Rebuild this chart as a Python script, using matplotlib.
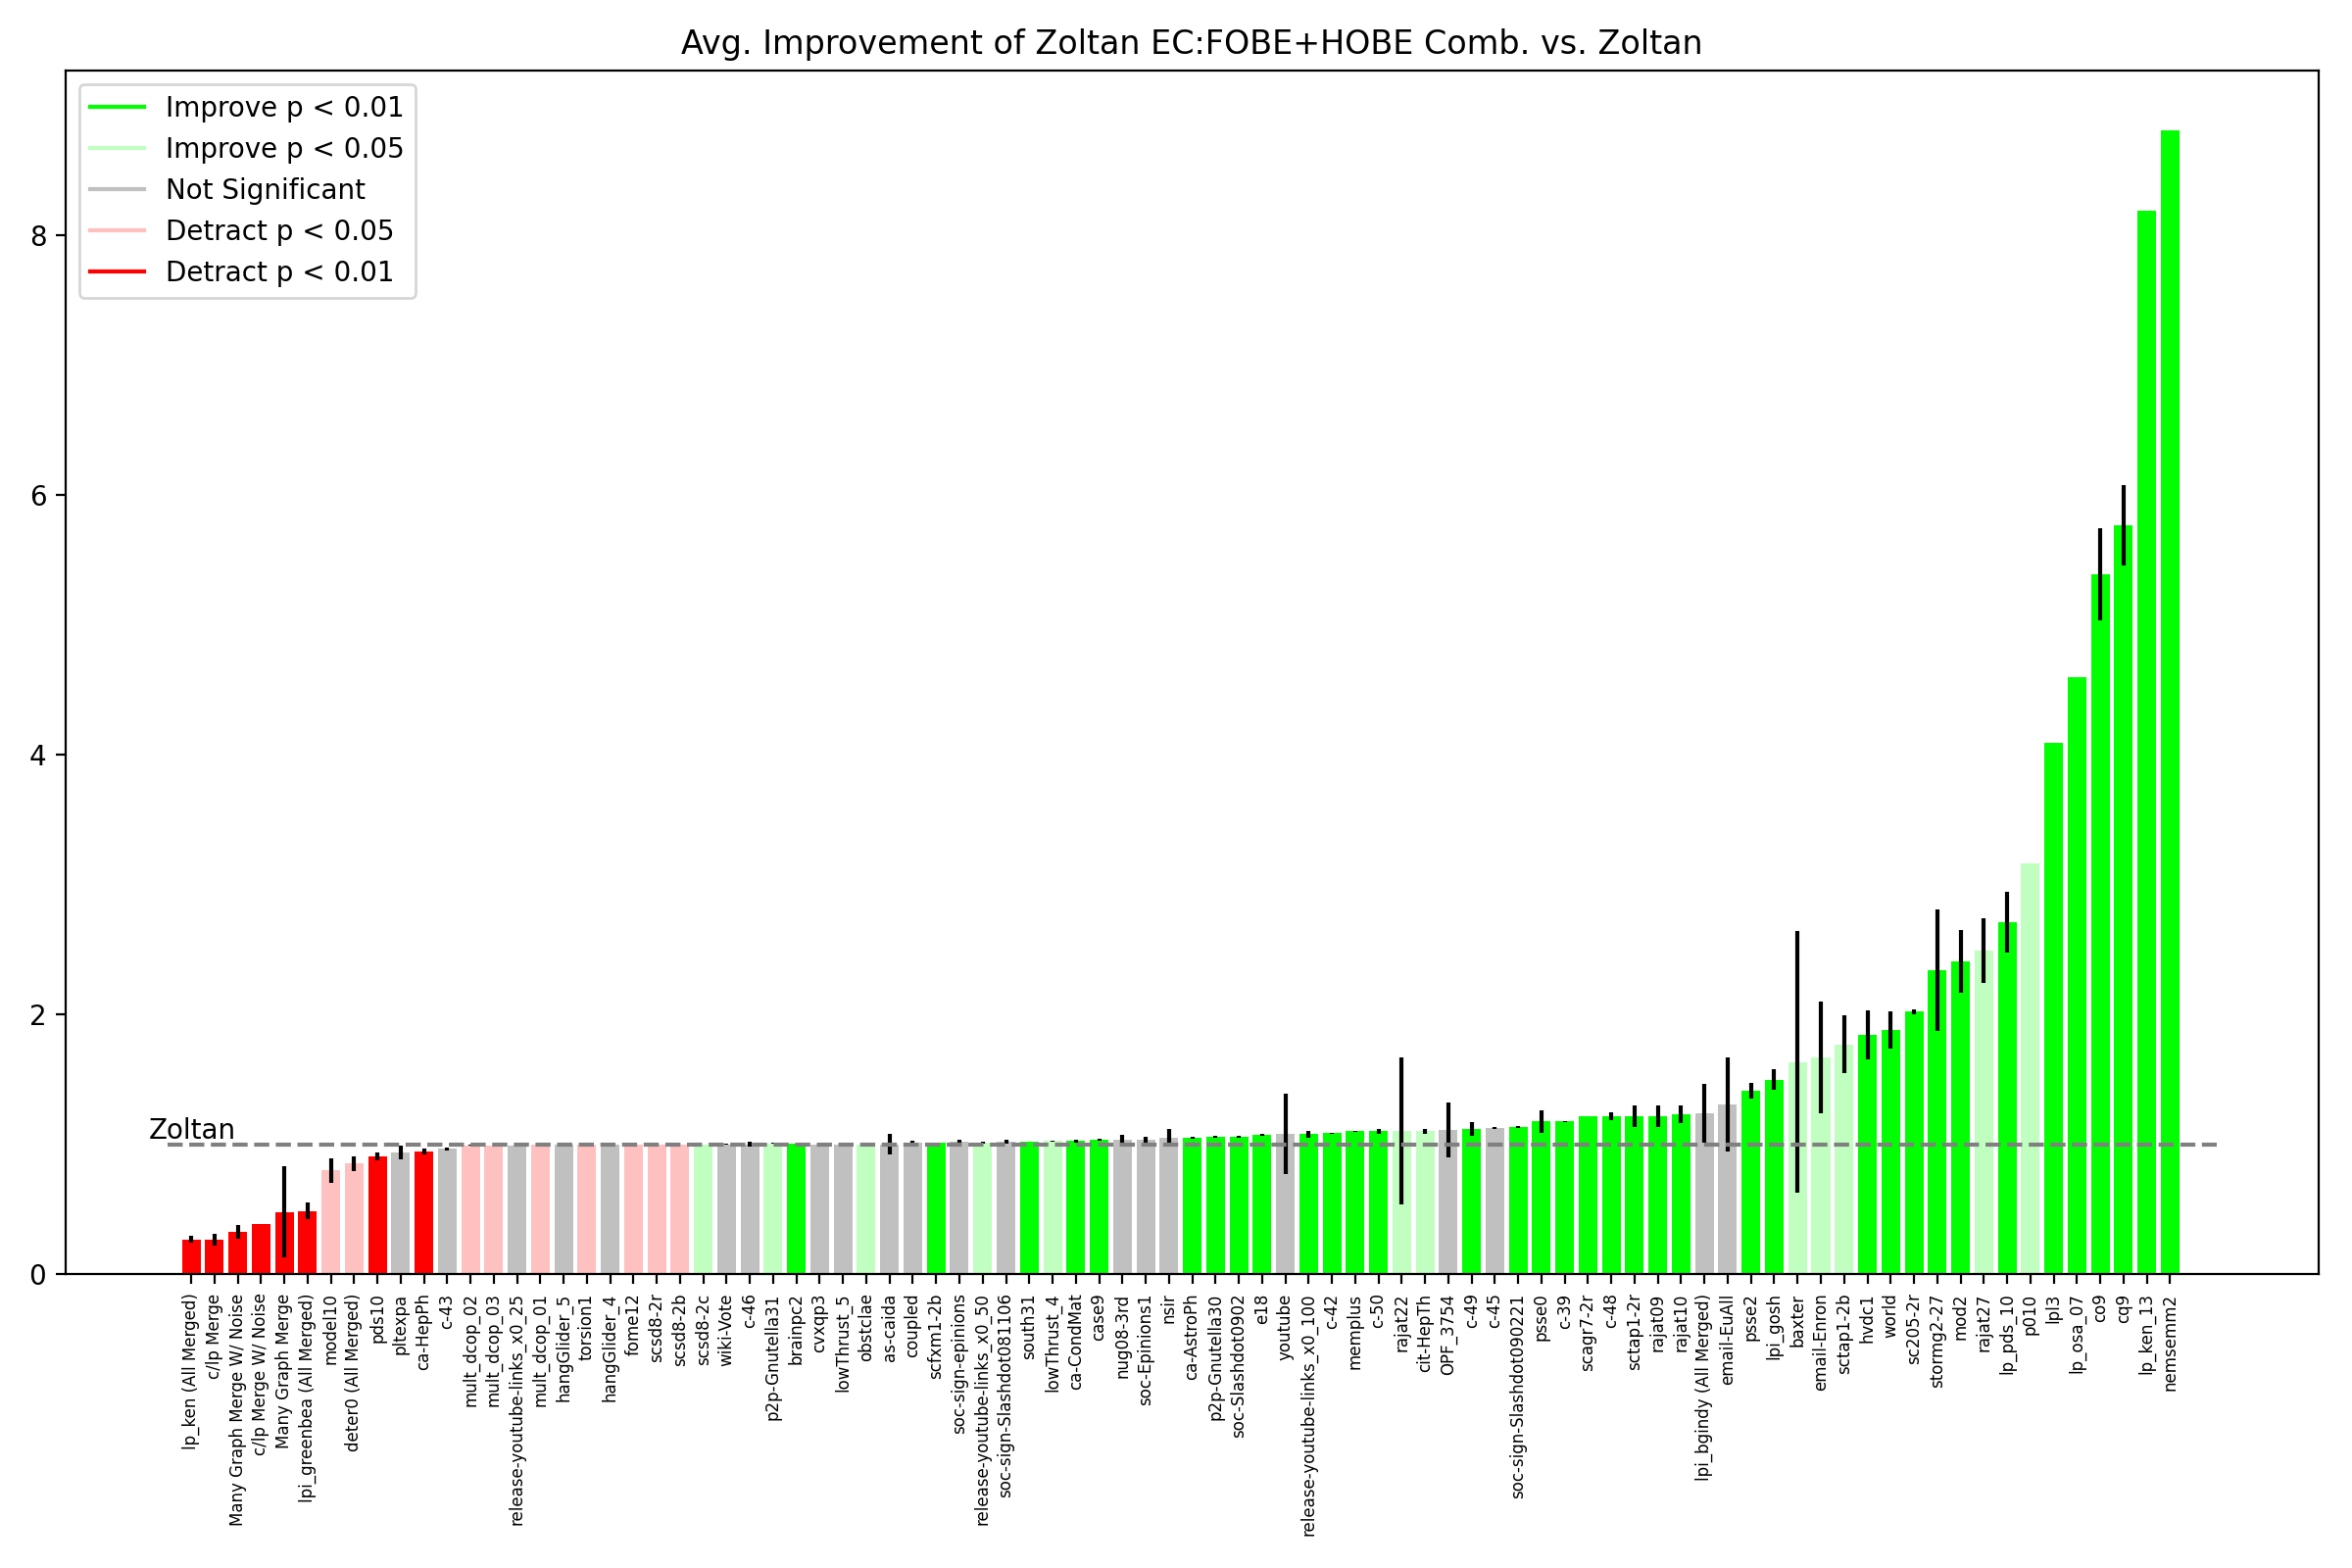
import matplotlib
matplotlib.use("Agg")
import matplotlib.pyplot as plt
from matplotlib.lines import Line2D

names = [
    "lp_ken (All Merged)", "c/lp Merge", "Many Graph Merge W/ Noise", "c/lp Merge W/ Noise",
    "Many Graph Merge", "lpi_greenbea (All Merged)", "model10", "deter0 (All Merged)",
    "pds10", "pltexpa", "ca-HepPh", "c-43", "mult_dcop_02", "mult_dcop_03",
    "release-youtube-links_x0_25", "mult_dcop_01", "hangGlider_5", "torsion1",
    "hangGlider_4", "fome12", "scsd8-2r", "scsd8-2b", "scsd8-2c", "wiki-Vote", "c-46",
    "p2p-Gnutella31", "brainpc2", "cvxqp3", "lowThrust_5", "obstclae", "as-caida",
    "coupled", "scfxm1-2b", "soc-sign-epinions", "release-youtube-links_x0_50",
    "soc-sign-Slashdot081106", "south31", "lowThrust_4", "ca-CondMat", "case9",
    "nug08-3rd", "soc-Epinions1", "nsir", "ca-AstroPh", "p2p-Gnutella30",
    "soc-Slashdot0902", "e18", "youtube", "release-youtube-links_x0_100", "c-42",
    "memplus", "c-50", "rajat22", "cit-HepTh", "OPF_3754", "c-49", "c-45",
    "soc-sign-Slashdot090221", "psse0", "c-39", "scagr7-2r", "c-48", "sctap1-2r",
    "rajat09", "rajat10", "lpi_bgindy (All Merged)", "email-EuAll", "psse2", "lpi_gosh",
    "baxter", "email-Enron", "sctap1-2b", "hvdc1", "world", "sc205-2r", "stormg2-27",
    "mod2", "rajat27", "lp_pds_10", "p010", "lpl3", "lp_osa_07", "co9", "cq9",
    "lp_ken_13", "nemsemm2",
]

means = [
    0.266, 0.266, 0.327, 0.387, 0.478, 0.486, 0.797, 0.851, 0.904, 0.934,
    0.942, 0.965, 0.99, 0.99, 0.99, 0.995, 0.995, 0.995, 0.998, 0.998,
    0.999, 1.0, 1.0, 1.0, 1.0, 1.005, 1.005, 1.0, 1.0, 1.0,
    1.0, 1.01, 1.01, 1.018, 1.013, 1.018, 1.018, 1.025, 1.025, 1.033,
    1.033, 1.033, 1.048, 1.048, 1.056, 1.056, 1.071, 1.078, 1.078, 1.086,
    1.10, 1.10, 1.10, 1.10, 1.109, 1.116, 1.124, 1.13, 1.177, 1.177,
    1.215, 1.215, 1.215, 1.215, 1.23, 1.238, 1.306, 1.41, 1.496, 1.633,
    1.67, 1.77, 1.84, 1.88, 2.02, 2.34, 2.41, 2.49, 2.71, 3.16,
    4.09, 4.60, 5.39, 5.77, 8.19, 8.81,
]

errs = [
    0.025, 0.044, 0.052, 0.0, 0.352, 0.063, 0.097, 0.057, 0.03, 0.053,
    0.023, 0.011, 0.004, 0.0, 0.004, 0.0, 0.0, 0.004, 0.0, 0.0,
    0.0, 0.0, 0.0, 0.004, 0.02, 0.004, 0.0, 0.0, 0.004, 0.0,
    0.08, 0.018, 0.0, 0.018, 0.008, 0.014, 0.0, 0.004, 0.01, 0.008,
    0.038, 0.027, 0.07, 0.008, 0.008, 0.01, 0.01, 0.31, 0.025, 0.004,
    0.004, 0.018, 0.565, 0.02, 0.21, 0.053, 0.005, 0.008, 0.087, 0.004,
    0.0, 0.03, 0.083, 0.085, 0.068, 0.224, 0.36, 0.06, 0.08, 1.01,
    0.43, 0.225, 0.19, 0.145, 0.02, 0.47, 0.24, 0.25, 0.235, 0.0,
    0.0, 0.0, 0.355, 0.31, 0.0, 0.0,
]

# significance class of each bar: ++ improve p<.01, + improve p<.05, 0 n.s., - detract p<.05, -- detract p<.01
sig = [
    "--", "--", "--", "--", "--", "--", "-", "-", "--", "0",
    "--", "0", "-", "-", "0", "-", "0", "-", "0", "-",
    "-", "-", "+", "0", "0", "+", "++", "0", "0", "+",
    "0", "0", "++", "0", "+", "0", "++", "+", "++", "++",
    "0", "0", "0", "++", "++", "++", "++", "0", "++", "++",
    "++", "++", "+", "+", "0", "++", "0", "++", "++", "++",
    "++", "++", "++", "++", "++", "0", "0", "++", "++", "+",
    "+", "+", "++", "++", "++", "++", "++", "+", "++", "+",
    "++", "++", "++", "++", "++", "++",
]

palette = {"++": "#00ff00", "+": "#c0ffc0", "0": "#c0c0c0", "-": "#ffc0c0", "--": "#ff0000"}
legend_labels = [("++", "Improve p < 0.01"), ("+", "Improve p < 0.05"), ("0", "Not Significant"),
                 ("-", "Detract p < 0.05"), ("--", "Detract p < 0.01")]

fig, ax = plt.subplots(figsize=(12, 8), dpi=200)
fig.subplots_adjust(left=0.0278, right=0.986, top=0.955, bottom=0.1875)

x = list(range(len(names)))
colors = [palette[s] for s in sig]
ax.bar(x, means, color=colors, yerr=errs, error_kw=dict(ecolor="black", elinewidth=1.5))

# baseline: Zoltan itself
ax.hlines(1.0, -1, len(names) + 1, colors="grey", linestyles="--")
ax.text(-1.8, 1.0, "Zoltan", va="bottom", ha="left")

ax.set_xticks(x)
ax.set_xticklabels(names, rotation=90, fontsize=6)
ax.set_ylim(0, 9.27)
ax.set_title("Avg. Improvement of Zoltan EC:FOBE+HOBE Comb. vs. Zoltan")

handles = [Line2D([0], [0], color=palette[k]) for k, _ in legend_labels]
ax.legend(handles, [lab for _, lab in legend_labels], loc="upper left")

fig.savefig("out.png")
